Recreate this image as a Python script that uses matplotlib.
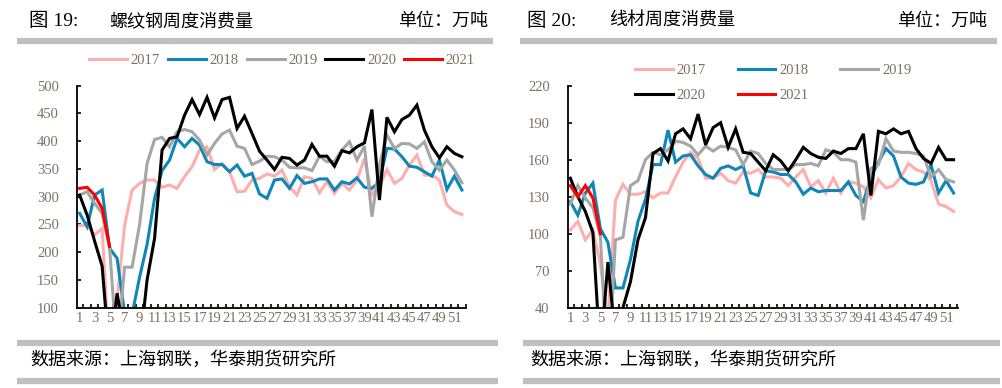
import matplotlib
matplotlib.use("Agg")
import matplotlib.pyplot as plt
from matplotlib.lines import Line2D
import numpy as np

# weeks 1..52
weeks = np.arange(1, 53)

# rebar weekly consumption (10k t)
rebar_2017 = [248, 249, 231, 243, 0, 115, 248, 312, 324, 330,
              330, 317, 321, 315, 336, 354, 384, 390, 349, 360,
              345, 309, 310, 330, 333, 341, 337, 348, 318, 303,
              336, 333, 307, 327, 306, 324, 312, 330, 369, 303,
              318, 349, 324, 333, 357, 375, 339, 339, 330, 285,
              273, 268]
rebar_2018 = [270, 246, 303, 312, 207, 189, 90, 88, 155, 214,
              297, 347, 366, 405, 390, 405, 393, 363, 358, 358,
              345, 357, 337, 342, 305, 297, 330, 332, 315, 338,
              324, 327, 332, 332, 312, 327, 323, 334, 317, 315,
              327, 387, 386, 372, 355, 353, 345, 337, 366, 313,
              337, 312]
rebar_2019 = [303, 309, 288, 270, 208, 20, 173, 173, 250, 360,
              403, 407, 390, 417, 421, 417, 402, 375, 396, 413,
              420, 391, 387, 358, 364, 373, 372, 366, 353, 352,
              352, 347, 373, 363, 364, 384, 399, 366, 391, 264,
              357, 411, 387, 396, 395, 387, 399, 363, 348, 366,
              348, 325]
rebar_2020 = [303, 267, 220, 175, 10, 126, 48, 0, 25, 150,
              225, 384, 405, 408, 447, 475, 448, 479, 442, 475,
              479, 423, 445, 414, 382, 366, 349, 371, 369, 357,
              366, 394, 373, 373, 355, 383, 379, 390, 397, 457,
              294, 443, 417, 439, 447, 465, 420, 390, 370, 390,
              378, 372]
rebar_2021 = [315, 317, 303, 279, 210]

# wire rod weekly consumption (10k t)
wire_2017 = [103, 110, 95, 103, 75, 30, 127, 140, 132, 132,
             134, 129, 133, 133, 146, 158, 166, 161, 145, 145,
             149, 143, 141, 150, 149, 152, 146, 146, 145, 139,
             146, 152, 138, 143, 133, 145, 133, 142, 141, 138,
             129, 144, 137, 139, 146, 157, 152, 150, 143, 124,
             122, 118]
wire_2018 = [126, 115, 133, 141, 104, 93, 56, 56, 79, 110,
             128, 156, 156, 184, 158, 163, 164, 155, 148, 145,
             153, 155, 152, 155, 133, 131, 151, 150, 148, 148,
             142, 132, 137, 134, 135, 135, 135, 142, 131, 126,
             146, 158, 169, 163, 146, 141, 140, 142, 156, 133,
             143, 133]
wire_2019 = [124, 139, 129, 121, 98, -20, 95, 97, 139, 143,
             160, 166, 164, 168, 175, 174, 171, 164, 171, 167,
             171, 170, 168, 156, 167, 165, 157, 152, 152, 152,
             156, 156, 157, 155, 168, 166, 160, 160, 158, 111,
             153, 156, 177, 167, 166, 166, 165, 163, 146, 152,
             144, 142]
wire_2020 = [145, 130, 118, 101, 0, 77, 15, 40, 61, 95,
             113, 165, 169, 159, 181, 185, 177, 197, 172, 186,
             190, 170, 185, 166, 165, 158, 151, 164, 159, 151,
             160, 170, 165, 162, 161, 167, 165, 169, 169, 181,
             131, 183, 181, 185, 181, 183, 169, 161, 157, 170,
             160, 160]
wire_2021 = [139, 130, 139, 129, 100]

years = ["2017", "2018", "2019", "2020", "2021"]
colors = ["#FFADAD", "#0F86B8", "#A6A6A6", "#000000", "#FF0000"]

W, H = 1003, 388
fig = plt.figure(figsize=(W / 100, H / 100), dpi=100)

serif = ["Liberation Serif", "DejaVu Serif"]
cjk = ["Noto Sans CJK SC", "DejaVu Sans"]
tick_color = "#7F7060"


def px_axes(x0, y0, x1, y1):
    return fig.add_axes([x0 / W, 1 - y1 / H, (x1 - x0) / W, (y1 - y0) / H])


def style_axes(ax, yticks):
    ax.set_xlim(0.65, 52.55)
    ax.set_ylim(yticks[0], yticks[-1])
    ax.set_yticks(yticks)
    ax.set_xticks(np.arange(1, 52, 2))
    ax.set_xticks(np.arange(1.5, 53, 1), minor=True)
    for s in ["top", "right"]:
        ax.spines[s].set_visible(False)
    for s in ["left", "bottom"]:
        ax.spines[s].set_linewidth(1.3)
        ax.spines[s].set_zorder(10)
    ax.tick_params(axis="x", which="major", length=0, pad=3,
                   labelsize=10.5, labelcolor=tick_color)
    ax.tick_params(axis="x", which="minor", direction="in", length=3,
                   width=1.2)
    ax.tick_params(axis="y", direction="in", length=3, width=1.2,
                   pad=13, labelsize=10.5, labelcolor=tick_color)
    for lab in ax.get_xticklabels() + ax.get_yticklabels():
        lab.set_family(serif)


def draw(ax, series):
    handles = []
    for vals, c, yr in zip(series, colors, years):
        h, = ax.plot(weeks[:len(vals)], vals, color=c, lw=2.2, label=yr,
                     solid_joinstyle="miter")
        handles.append(h)
    return handles


# left panel: rebar
ax1 = px_axes(77, 85.7, 466, 307.7)
h1 = draw(ax1, [rebar_2017, rebar_2018, rebar_2019, rebar_2020, rebar_2021])
style_axes(ax1, [100, 150, 200, 250, 300, 350, 400, 450, 500])
leg1 = ax1.legend(handles=h1, ncol=5, loc="center", bbox_to_anchor=(0.527, 1.113),
                  frameon=False, handlelength=2.6, handletextpad=0.25,
                  columnspacing=0.55, borderaxespad=0, borderpad=0,
                  prop={"family": serif, "size": 10.5})
for t in leg1.get_texts():
    t.set_color(tick_color)

# right panel: wire rod
ax2 = px_axes(567.7, 85.7, 957.7, 307.7)
h2 = draw(ax2, [wire_2017, wire_2018, wire_2019, wire_2020, wire_2021])
style_axes(ax2, [40, 70, 100, 130, 160, 190, 220])
# legend fills column-wise: reorder so rows read 2017 2018 2019 / 2020 2021
order = [0, 3, 1, 4, 2]
leg2 = ax2.legend(handles=[h2[i] for i in order], ncol=3, loc="upper left",
                  bbox_to_anchor=(0.172, 1.10),
                  frameon=False, handlelength=2.6, handletextpad=0.25,
                  columnspacing=2.2, labelspacing=0.85, borderaxespad=0, borderpad=0,
                  prop={"family": serif, "size": 10.5})
for t in leg2.get_texts():
    t.set_color(tick_color)

# titles, units, grey bars, source notes
def ftext(x, y, s, ha="left", fam=cjk, size=13):
    fig.text(x / W, 1 - y / H, s, ha=ha, va="center", family=fam, fontsize=size)


def bar(x0, x1, y, lw=4.5):
    fig.add_artist(Line2D([x0 / W, x1 / W], [1 - y / H, 1 - y / H],
                          color="#C0C0C0", lw=lw, solid_capstyle="butt"))


mixed = ["Liberation Serif", "Noto Sans CJK SC"]
ftext(29, 21, "图 19:", fam=mixed, size=14)
ftext(109, 21, "螺纹钢周度消费量")
ftext(488, 21, "单位：万吨", ha="right")
ftext(527, 21, "图 20:", fam=mixed, size=14)
ftext(609, 21, "线材周度消费量")
ftext(987, 21, "单位：万吨", ha="right")

bar(17, 493, 40.5)
bar(520, 997, 40.5)
bar(17, 498, 343)
bar(523, 1000, 343)
bar(17, 498, 381)
bar(523, 1000, 381)

ftext(30, 360, "数据来源：上海钢联，华泰期货研究所")
ftext(530, 360, "数据来源：上海钢联，华泰期货研究所")

fig.savefig("out.png", dpi=100)
